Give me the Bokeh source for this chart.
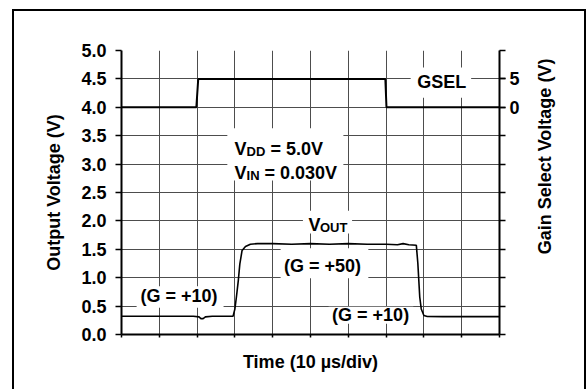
from bokeh.plotting import figure
from bokeh.layouts import row, column
from bokeh.models import FixedTicker, LinearAxis, Range1d
from bokeh.core.properties import value
from bokeh.embed import file_html
from bokeh.resources import INLINE

# ---- data ----
x_ticks = [0, 1, 2, 3, 4, 5, 6, 7, 8, 9, 10]
y_ticks = [0.0, 0.5, 1.0, 1.5, 2.0, 2.5, 3.0, 3.5, 4.0, 4.5, 5.0]
y_tick_labels = ["0.0", "0.5", "1.0", "1.5", "2.0", "2.5", "3.0", "3.5", "4.0", "4.5", "5.0"]
gsel_ticks = [-40, -35, -30, -25, -20, -15, -10, -5, 0, 5, 10]
gsel_labeled = [0, 5]

gsel_t = [0.0, 1.98, 2.03, 6.98, 7.01, 10.0]
gsel_v = [0.0, 0.0, 5.0, 5.0, 0.0, 0.0]

vout_t = [0.0, 1.0, 1.9, 2.05, 2.1, 2.16, 2.22, 2.4, 2.95, 3.0, 3.04, 3.09, 3.13, 3.19,
          3.28, 3.41, 3.6, 4.0, 4.5, 5.0, 5.5, 6.0, 6.5, 7.0, 7.3, 7.45, 7.6, 7.8,
          7.84, 7.89, 7.93, 8.0, 8.09, 8.5, 9.0, 10.0]
vout_v = [0.32, 0.32, 0.32, 0.31, 0.28, 0.28, 0.31, 0.32, 0.32, 0.45, 0.66, 0.95, 1.24, 1.48,
          1.55, 1.59, 1.60, 1.60, 1.59, 1.60, 1.59, 1.60, 1.59, 1.59, 1.58, 1.60, 1.58, 1.57,
          1.25, 0.66, 0.45, 0.335, 0.317, 0.315, 0.315, 0.315]

FONT = "Liberation Sans"
FS = "18px"

p = figure(width=516, height=378, x_range=Range1d(0, 10), y_range=Range1d(0, 5),
           output_backend="svg", toolbar_location=None,
           min_border_left=107, min_border_right=31, min_border_top=39, min_border_bottom=55,
           x_axis_label="Time (10 µs/div)", y_axis_label="Output Voltage (V)")
p.extra_y_ranges = {"gsel": Range1d(-40, 10)}
p.outline_line_color = None
p.background_fill_color = "white"
p.border_fill_color = "white"

# grids
p.xgrid.ticker = FixedTicker(ticks=x_ticks)
p.ygrid.ticker = FixedTicker(ticks=y_ticks)
for g in (p.xgrid, p.ygrid):
    g.grid_line_color = "#4d4d4d"
    g.grid_line_width = 1

# left axis
ya = p.yaxis[0]
ya.ticker = FixedTicker(ticks=y_ticks)
ya.major_label_overrides = {t: s for t, s in zip(y_ticks, y_tick_labels)}
ya.minor_tick_line_color = None
ya.major_tick_out = 6
ya.major_tick_in = 0
ya.major_label_standoff = 9
ya.axis_line_width = 2
ya.axis_line_color = "black"
ya.major_tick_line_color = "black"
ya.major_tick_line_width = 1.5
ya.major_label_text_font = FONT
ya.major_label_text_font_style = "bold"
ya.major_label_text_font_size = FS
ya.major_label_text_color = "black"
ya.axis_label_text_font = FONT
ya.axis_label_text_font_style = "bold"
ya.axis_label_text_font_size = FS
ya.axis_label_text_color = "black"
ya.axis_label_standoff = 14

# bottom axis: only tick marks (as minor ticks), no tick labels
xa = p.xaxis[0]
xa.ticker = FixedTicker(ticks=[], minor_ticks=x_ticks)
xa.minor_tick_out = 3
xa.minor_tick_in = 0
xa.minor_tick_line_color = "black"
xa.minor_tick_line_width = 1.5
xa.axis_line_width = 2
xa.axis_line_color = "black"
xa.axis_label_text_font = FONT
xa.axis_label_text_font_style = "bold"
xa.axis_label_text_font_size = FS
xa.axis_label_text_color = "black"
xa.axis_label_standoff = 14

# right axis (gain select voltage): labels at 0 and 5, tick marks at every grid line
ra = LinearAxis(y_range_name="gsel")
ra.ticker = FixedTicker(ticks=gsel_labeled, minor_ticks=gsel_ticks)
ra.major_tick_out = 6
ra.major_tick_in = 0
ra.minor_tick_out = 6
ra.minor_tick_in = 0
ra.major_tick_line_color = "black"
ra.minor_tick_line_color = "black"
ra.major_tick_line_width = 1.5
ra.minor_tick_line_width = 1.5
ra.major_label_standoff = 4
ra.axis_line_width = 2
ra.axis_line_color = "black"
ra.major_label_text_font = FONT
ra.major_label_text_font_style = "bold"
ra.major_label_text_font_size = FS
ra.major_label_text_color = "black"
p.add_layout(ra, "right")

# white boxes behind annotations
p.quad(left=[7.65, 2.80, 4.80, 4.21, 0.40, 5.48],
       right=[9.25, 5.87, 6.10, 6.53, 2.70, 7.72],
       bottom=[4.17, 2.71, 1.78, 0.99, 0.47, 0.19],
       top=[4.70, 3.63, 2.18, 1.52, 0.85, 0.49],
       fill_color="white", line_color=None)

# data lines
p.line(gsel_t, gsel_v, y_range_name="gsel", line_color="black", line_width=2)
p.line(vout_t, vout_v, line_color="black", line_width=1.6)

tk = dict(text_font=value(FONT), text_font_style="bold", text_color="black")
p.text(x=[8.47, 5.32, 1.52, 6.59], y=[4.44, 1.20, 0.67, 0.352],
       text=["GSEL", "(G = +50)", "(G = +10)", "(G = +10)"],
       text_align="center", text_baseline="middle", text_font_size=FS, **tk)
p.text(x=[2.99, 2.99, 4.95], y=[3.27, 2.84, 1.92], text=["V", "V", "V"],
       text_align="left", text_baseline="alphabetic", text_font_size=FS, **tk)
p.text(x=[3.31, 3.31, 5.25], y=[3.225, 2.80, 1.88], text=["DD", "IN", "OUT"],
       text_align="left", text_baseline="alphabetic", text_font_size="13px", **tk)
p.text(x=[3.94, 3.78], y=[3.27, 2.84], text=["= 5.0V", "= 0.030V"],
       text_align="left", text_baseline="alphabetic", text_font_size=FS, **tk)

# narrow side panel carrying the right-hand axis title (reads bottom-to-top)
p2 = figure(width=54, height=378, x_range=Range1d(0, 1), y_range=Range1d(0, 1),
            output_backend="svg", toolbar_location=None, x_axis_location=None,
            min_border_left=27, min_border_right=0, min_border_top=44, min_border_bottom=132,
            y_axis_label="Gain Select Voltage (V)")
p2.outline_line_color = None
p2.grid.visible = False
p2.border_fill_color = "white"
ta = p2.yaxis[0]
ta.ticker = FixedTicker(ticks=[])
ta.axis_line_color = None
ta.major_tick_line_color = None
ta.minor_tick_line_color = None
ta.major_label_text_font_size = "0px"
ta.axis_label_text_font = FONT
ta.axis_label_text_font_style = "bold"
ta.axis_label_text_font_size = FS
ta.axis_label_text_color = "black"
ta.axis_label_standoff = 3

layout = row(column(p), column(p2), spacing=0, margin=(11, 0, 0, 14),
             styles={"outline": "2px solid black", "outline-offset": "0px"})

open("out.html", "w").write(file_html(layout, INLINE))
